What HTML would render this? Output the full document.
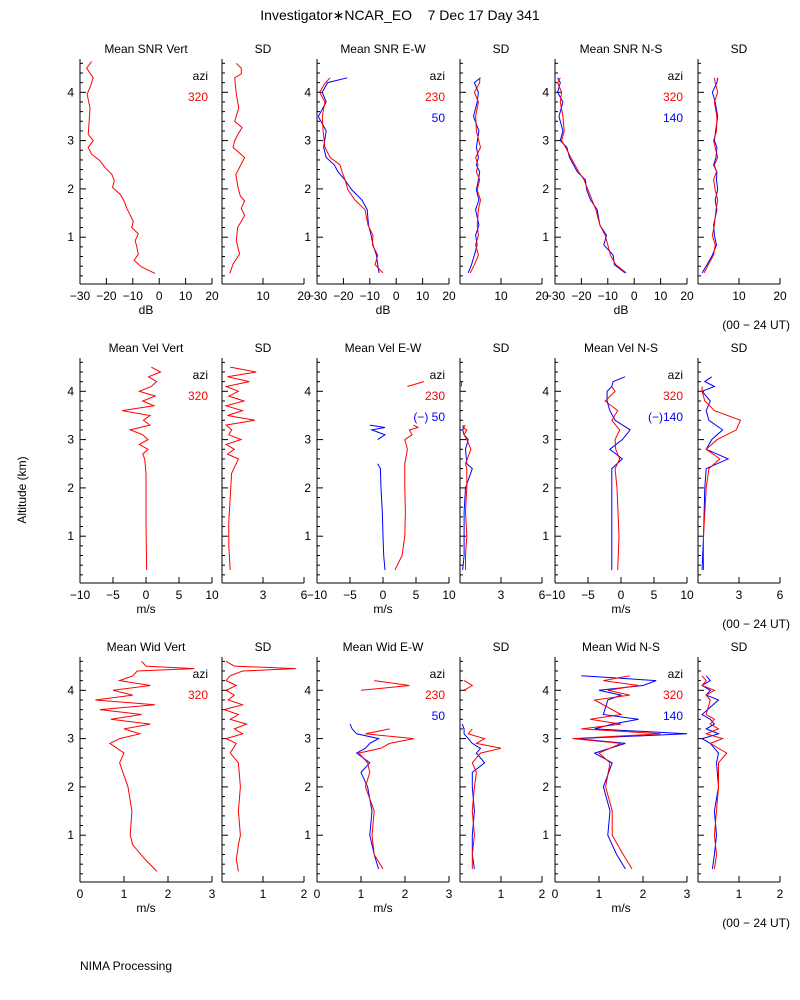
<!DOCTYPE html>
<html><head><meta charset="utf-8">
<style>
html,body{margin:0;padding:0;background:#fff;}
svg{display:block;font-family:"Liberation Sans",sans-serif;}
text{font-size:12px;}
</style></head>
<body>
<svg id="chart" width="800" height="1000" viewBox="0 0 800 1000">
<text x="400" y="20" text-anchor="middle" style="font-size:14px;white-space:pre" fill="#000">Investigator∗NCAR_EO    7 Dec 17 Day 341</text>
<text x="26" y="490" text-anchor="middle" fill="#000" transform="rotate(-90 26 490)">Altitude (km)</text>
<text x="80" y="970" fill="#000">NIMA Processing</text>
<g id="g"></g>
</svg>
<script>
// ---- data (altitude km, value) ----
const snrVertAlt=[0.25,0.38,0.52,0.65,0.8,0.93,1.07,1.2,1.33,1.6,1.75,1.89,2.03,2.17,2.3,2.44,2.58,2.72,2.86,3.0,3.13,3.41,3.68,3.96,4.1,4.3,4.5,4.64];
const snrVertVal=[-1.6,-6.6,-9.5,-7.9,-8.5,-9.1,-7.9,-10.4,-9.8,-12.3,-13.3,-14.8,-17.7,-17,-17.9,-20.5,-22.4,-25.6,-26.9,-25,-26.9,-26.5,-26.2,-27.3,-26.2,-25,-27.5,-25.6];
const snrVertSdAlt=[0.25,0.45,0.65,0.93,1.2,1.33,1.45,1.6,1.75,1.85,2.03,2.3,2.65,2.86,3.0,3.13,3.27,3.4,3.68,3.96,4.3,4.38,4.5,4.6];
const snrVertSdVal=[1.9,2.7,4.3,3.5,3.8,4.7,5.5,4.7,5.5,4.5,3.9,3.4,5.5,2.7,3.1,3.9,4.9,3.1,4.1,3.5,3.1,4.7,4.7,3.5];
const snrEwAlt=[0.26,0.43,0.63,0.84,1.04,1.25,1.57,1.77,1.98,2.19,2.35,2.5,2.65,2.86,3.2,3.5,3.8,4.0,4.2,4.3];
const snrEwRed=[-5,-8,-7,-9,-8.8,-10.7,-11.8,-15.6,-18.3,-19.4,-20.5,-21.3,-25,-27,-27.7,-28,-27,-29,-26.8,-25];
const snrEwBlue=[-6.5,-7,-7.5,-8.8,-9.5,-10.5,-11,-13,-16.8,-19.5,-22,-23.5,-26.5,-27.5,-26.5,-29.5,-26.5,-28,-26,-18.5];
const snrEwSdRed=[2.5,3.5,4.5,3.8,4.5,4.2,4.5,5,4.2,4.8,4,4.4,3.8,5,4,3.8,4.5,3.5,4.8,4.8];
const snrEwSdBlue=[2,2.8,3.5,4.2,3.8,4.6,3.8,4.6,4,4.5,4.8,4,4.5,4,4.6,3.3,4.2,4.5,3.5,5];
const snrNsAlt=[0.26,0.43,0.63,0.84,1.04,1.25,1.57,1.77,1.98,2.19,2.35,2.5,2.65,2.86,3.0,3.2,3.5,3.8,4.0,4.2,4.3];
const snrNsRed=[-3,-7,-9,-10,-11,-13,-14.5,-16,-17.5,-19,-21,-22.5,-24,-26,-27.5,-26.5,-27,-28,-27.5,-29,-28];
const snrNsBlue=[-3.5,-7.5,-8,-11.5,-10.5,-13,-14,-16.5,-18,-18.5,-21.5,-23,-24.5,-25.5,-28,-27,-28.5,-27,-29,-28,-29];
const snrNsSdRed=[1.5,2.5,3.8,4.2,3.5,4,4.4,4.8,4.2,3.8,4.5,4,4.8,4.2,3.8,4.5,4.6,4,4.8,4.2,4];
const snrNsSdBlue=[1,2.2,3.5,4.5,4,3.8,4.6,4.2,4.8,4.5,4.6,3.8,4.4,4.6,4,4.3,4.8,4.2,3.5,4.6,4.8];

const velVertAlt=[0.3,0.8,1.3,1.8,2.3,2.6,2.7,2.8,2.9,3.0,3.1,3.2,3.3,3.4,3.5,3.6,3.7,3.8,3.9,4.0,4.1,4.2,4.3,4.4,4.5];
const velVertVal=[0.1,0.05,0,0,0,-0.2,-0.5,0.3,-1,0.3,-0.5,-2.4,0.6,-0.4,0.6,-3.6,1.2,-0.5,1.4,-1,0.8,1.6,0.4,2.2,0.8];
const velVertSdVal=[0.6,0.5,0.5,0.6,0.7,1.2,0.4,0.9,0.3,1.4,0.5,0.7,0.3,2.4,0.4,1.5,0.3,1.6,0.5,1.2,0.3,2.0,0.4,2.5,0.6];
const velEwAlt=[0.3,0.6,1.0,1.5,2.0,2.4,2.5,2.8,3.0,3.1,3.2,3.25,3.3,4.0,4.1,4.2];
const velEwRed=[1.8,2.9,3.3,3.4,3.3,3.3,3.3,3.7,3.3,4.4,4,5.3,4.6,null,3.7,6.2];
const velEwBlue=[0.3,0.1,0,-0.1,-0.3,-0.4,-0.8,null,-0.8,0.3,-1.7,0.3,-2,null,null,null];
const velEwSdRed=[0.4,0.4,0.5,0.4,0.5,0.5,0.4,0.8,0.5,0.3,0.5,0.2,0.4,null,0.1,0.1];
const velEwSdBlue=[0.2,0.3,0.3,0.3,0.4,0.9,0.5,0.4,0.6,0.3,0.2,0.3,0.2,null,null,null];
const velNsAlt=[0.3,1.0,2.0,2.4,2.6,2.8,3.0,3.2,3.4,3.6,3.8,4.0,4.1,4.2,4.3];
const velNsRed=[-0.5,-0.3,-0.6,-0.9,-0.2,-0.8,-0.9,-0.2,-1.4,-0.5,-2.4,-0.9,-1.4,null,null];
const velNsBlue=[-1.4,-1.4,-1.4,-1.4,0.2,-1.7,0.2,1.4,-0.9,-1.7,-2.1,-2.1,-1.4,-1.2,0.6];
const velNsSdRed=[0.4,0.4,0.6,0.8,1.6,0.6,1.4,2.8,3.1,1.2,0.5,0.3,0.3,null,null];
const velNsSdBlue=[0.3,0.4,0.5,0.6,2.2,0.6,1.0,1.8,0.8,0.6,0.9,0.3,1.2,0.5,1.0];

const widVertAlt=[0.25,0.5,0.8,1.0,1.5,2.0,2.5,2.7,2.9,3.0,3.1,3.2,3.3,3.4,3.5,3.6,3.7,3.8,3.9,4.0,4.1,4.2,4.3,4.4,4.45,4.5,4.6];
const widVertVal=[1.75,1.48,1.2,1.14,1.18,1.09,0.9,1.0,0.68,0.9,1.36,1.0,1.6,0.7,1.4,0.45,1.7,0.35,1.2,0.75,1.6,0.9,1.2,1.3,2.6,1.5,1.4];
const widVertSdVal=[0.4,0.35,0.4,0.45,0.4,0.45,0.4,0.2,0.35,0.1,0.5,0.3,0.6,0.2,0.4,0.05,0.5,0.15,0.3,0.1,0.35,0.1,0.2,0.5,1.8,0.3,0.1];
const widEwAlt=[0.3,0.6,1.0,1.5,2.0,2.3,2.5,2.7,2.8,2.9,3.0,3.1,3.2,3.3,4.0,4.1,4.2];
const widEwRed=[1.5,1.3,1.25,1.3,1.1,1.2,1.15,0.95,1.45,1.65,2.2,1.1,1.65,null,1.0,2.1,1.3];
const widEwBlue=[1.4,1.3,1.2,1.25,1.15,1.0,1.2,0.9,1.1,1.2,1.4,0.9,0.8,0.75,null,null,null];
const widEwSdRed=[0.3,0.3,0.35,0.3,0.35,0.4,0.3,0.5,1.0,0.4,0.6,0.2,0.3,null,0.1,0.3,0.1];
const widEwSdBlue=[0.35,0.3,0.3,0.35,0.3,0.3,0.6,0.4,0.5,0.3,0.2,0.1,0.1,0.05,null,null,null];
const widNsAlt=[0.3,0.6,1.0,1.5,2.0,2.5,2.7,2.9,3.0,3.1,3.2,3.3,3.4,3.5,3.8,3.9,4.0,4.1,4.2,4.3];
const widNsRed=[1.75,1.55,1.3,1.3,1.15,1.25,1.0,1.5,0.4,2.4,0.6,1.5,0.8,1.5,0.9,1.7,1.2,1.9,1.1,1.7];
const widNsBlue=[1.6,1.4,1.2,1.25,1.1,1.3,0.9,1.6,0.5,3.0,0.9,1.3,1.9,1.1,1.2,1.5,1.0,2.0,2.3,0.6];
const widNsSdRed=[0.4,0.45,0.4,0.45,0.5,0.5,0.7,0.3,0.6,0.2,0.5,0.3,0.4,0.2,0.3,0.2,0.4,0.1,0.2,0.1];
const widNsSdBlue=[0.35,0.4,0.45,0.4,0.5,0.45,0.5,0.3,0.1,0.5,0.2,0.4,0.3,0.1,0.5,0.2,0.3,0.1,0.3,0.2];

const meanTicks=[[-30,-20,-10,0,10,20],[-10,-5,0,5,10],[0,1,2,3]];
const sdTicks=[[0,10,20],[0,3,6],[0,1,2]];
const altTicks=[1,2,3,4];

// ---- layout ----
const NS="http://www.w3.org/2000/svg";
const g=document.getElementById('g');
const rowsB=[284,583,882], colsL=[80,222,317,460,555,698];
const KM=48.3;
function mk(tag,attrs,parent){const e=document.createElementNS(NS,tag);for(const k in attrs)e.setAttribute(k,attrs[k]);(parent||g).appendChild(e);return e;}
function txt(x,y,s,anchor,color,parent){const t=mk('text',{x:x,y:y,'text-anchor':anchor||'middle',fill:color||'#000'},parent);t.textContent=s;return t;}

const rowInfo=[
 {titles:['Mean SNR Vert','Mean SNR E-W','Mean SNR N-S'],unit:'dB',legend:[['320'],['230','50'],['320','140']]},
 {titles:['Mean Vel Vert','Mean Vel E-W','Mean Vel N-S'],unit:'m/s',legend:[['320'],['230','(−) 50'],['320','(−)140']]},
 {titles:['Mean Wid Vert','Mean Wid E-W','Mean Wid N-S'],unit:'m/s',legend:[['320'],['230','50'],['320','140']]}];
const series=[
 [[snrVertAlt,snrVertVal,null],[snrVertSdAlt,snrVertSdVal,null],[snrEwAlt,snrEwRed,snrEwBlue],[snrEwAlt,snrEwSdRed,snrEwSdBlue],[snrNsAlt,snrNsRed,snrNsBlue],[snrNsAlt,snrNsSdRed,snrNsSdBlue]],
 [[velVertAlt,velVertVal,null],[velVertAlt,velVertSdVal,null],[velEwAlt,velEwRed,velEwBlue],[velEwAlt,velEwSdRed,velEwSdBlue],[velNsAlt,velNsRed,velNsBlue],[velNsAlt,velNsSdRed,velNsSdBlue]],
 [[widVertAlt,widVertVal,null],[widVertAlt,widVertSdVal,null],[widEwAlt,widEwRed,widEwBlue],[widEwAlt,widEwSdRed,widEwSdBlue],[widNsAlt,widNsRed,widNsBlue],[widNsAlt,widNsSdRed,widNsSdBlue]]];

for(let r=0;r<3;r++){
 const B=rowsB[r],T=B-225;
 const yS=a=>B+1.5-a*KM;
 for(let c=0;c<6;c++){
  const isSd=c%2===1, L=colsL[c], W=isSd?82:132;
  const ticks=isSd?sdTicks[r]:meanTicks[r];
  const lo=ticks[0],hi=ticks[ticks.length-1];
  const xS=v=>L+(v-lo)/(hi-lo)*W;
  const p=mk('g',{});
  
  
  const t=txt(L+W/2,T-6,isSd?'SD':rowInfo[r].titles[c/2|0],'middle','#000',p);
  
  
  mk('line',{x1:L,y1:T,x2:L,y2:B,stroke:'#000','stroke-width':1},p);
  mk('line',{x1:L,y1:B,x2:L+W,y2:B,stroke:'#000','stroke-width':1},p);
  for(let a=0.2;a<4.7;a+=0.2){const y=yS(a);if(y<T)break;const maj=Math.abs(a-Math.round(a))<0.01;
   mk('line',{x1:L,y1:y,x2:L+(maj?6:3),y2:y,stroke:'#000'},p);}
  if(!isSd){altTicks.forEach(a=>{const tl=txt(L-6,yS(a)+4,String(a),'end','#000',p);});}
  ticks.forEach((v,i)=>{const x=xS(v);mk('line',{x1:x,y1:B,x2:x,y2:B-6,stroke:'#000'},p);
   if(isSd&&i===0)return;
   const s=v<0?'−'+Math.abs(v):String(v);
   const tl=txt(x,B+16,s,'middle','#000',p);
   
   });
  if(!isSd){const ul=txt(L+W/2,B+30,rowInfo[r].unit,'middle','#000',p);
   
   
   const lg=rowInfo[r].legend[c/2|0];
   const lx=L+W-4;
   txt(lx,T+21,'azi','end','#000',p);
   lg.forEach((s,i)=>{const e=txt(lx,T+42+i*21,s,'end',i===0?'#f00':'#00f',p);
    
    });}
  const [alt,red,blue]=series[r][c];
  [[blue,'#00f'],[red,'#f00']].forEach(([vals,col])=>{
   if(!vals)return;
   let d='',pen=false;
   for(let i=0;i<alt.length;i++){const v=vals[i];
    if(v===null||v===undefined){pen=false;continue;}
    const x=Math.max(L,Math.min(L+W,xS(v)));
    d+=(pen?'L':'M')+x.toFixed(1)+' '+yS(alt[i]).toFixed(1)+' ';pen=true;}
   const pl=mk('path',{d:d,fill:'none',stroke:col,'stroke-width':1},p);
   
   
  });
 }
 const ut=txt(790,B+45,'(00 − 24 UT)','end','#000');
 
 
}
</script>
</body></html>
